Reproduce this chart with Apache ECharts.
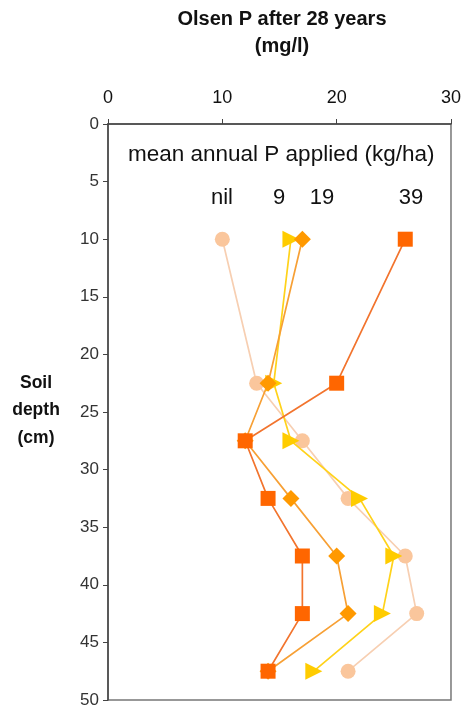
<!DOCTYPE html>
<html>
<head>
<meta charset="utf-8">
<script src="https://cdn.jsdelivr.net/npm/echarts@6/dist/echarts.min.js"></script>
<style>html,body{margin:0;padding:0;background:#fff;}#c{width:464px;height:709px;}</style>
</head>
<body>
<div id="c"></div>
<script>
const depths = [10, 22.5, 27.5, 32.5, 37.5, 42.5, 47.5];
const nilP = [10, 13, 17, 21, 26, 27, 21];
const p9 = [16, 14.5, 16, 22, 25, 24, 18];
const p19 = [17, 14, 12, 16, 20, 21, 14];
const p39 = [26, 20, 12, 14, 17, 17, 14];
const xTicks = [0, 10, 20, 30];
const yTicks = [0, 5, 10, 15, 20, 25, 30, 35, 40, 45, 50];
const seriesNames = ['nil', '9', '19', '39'];

const chart = echarts.init(document.getElementById('c'));
const font = 'Liberation Sans, Arial, sans-serif';
function mk(name, vals, symbol, size, color, lineColor, rot, z) {
  return {
    name: name, type: 'line', z: z,
    data: vals.map((v, i) => [v, depths[i]]),
    symbol: symbol, symbolSize: size, symbolRotate: rot,
    showAllSymbol: true,
    itemStyle: { color: color, opacity: 1 },
    lineStyle: { color: lineColor, width: 1.7 },
    animation: false
  };
}
chart.setOption({
  animation: false,
  grid: { left: 108, right: 13, top: 124, bottom: 9, show: true, borderColor: '#777', borderWidth: 1.5, backgroundColor: 'transparent' },
  xAxis: {
    type: 'value', position: 'top', min: 0, max: 30, interval: 10,
    axisLine: { show: true, lineStyle: { color: '#444', width: 1.5 } },
    axisTick: { show: true, inside: false, length: 5, lineStyle: { color: '#444' } },
    axisLabel: { fontFamily: font, fontSize: 18, color: '#111', margin: 17 },
    splitLine: { show: false }
  },
  yAxis: {
    type: 'value', inverse: true, min: 0, max: 50, interval: 5,
    axisLine: { show: true, lineStyle: { color: '#444', width: 1.5 } },
    axisTick: { show: true, length: 5, lineStyle: { color: '#444' } },
    axisLabel: { fontFamily: font, fontSize: 17, color: '#333', margin: 9 },
    splitLine: { show: false }
  },
  graphic: [
    { type: 'text', style: { text: 'Olsen P after 28 years', x: 282, y: 9, textAlign: 'center', fontFamily: font, fontWeight: 'bold', fontSize: 20, fill: '#111' } },
    { type: 'text', style: { text: '(mg/l)', x: 282, y: 36, textAlign: 'center', fontFamily: font, fontWeight: 'bold', fontSize: 20, fill: '#111' } },
    { type: 'text', style: { text: 'Soil\ndepth\n(cm)', x: 36, y: 369, textAlign: 'center', fontFamily: font, fontWeight: 'bold', fontSize: 17.5, lineHeight: 27.5, fill: '#111' } },
    { type: 'text', style: { text: 'mean annual P applied (kg/ha)', x: 128, y: 143, fontFamily: font, fontSize: 22.5, fill: '#111' } },
    { type: 'text', style: { text: seriesNames[0], x: 222, y: 187, textAlign: 'center', fontFamily: font, fontSize: 22, fill: '#111' } },
    { type: 'text', style: { text: seriesNames[1], x: 279, y: 187, textAlign: 'center', fontFamily: font, fontSize: 22, fill: '#111' } },
    { type: 'text', style: { text: seriesNames[2], x: 322, y: 187, textAlign: 'center', fontFamily: font, fontSize: 22, fill: '#111' } },
    { type: 'text', style: { text: seriesNames[3], x: 411, y: 187, textAlign: 'center', fontFamily: font, fontSize: 22, fill: '#111' } }
  ],
  series: [
    mk(seriesNames[0], nilP, 'circle', 15, '#FAC69C', '#F7CFB2', 0, 2),
    mk(seriesNames[1], p9, 'triangle', 17, '#FFCC00', '#FFD21A', -90, 3),
    mk(seriesNames[2], p19, 'diamond', 17, '#FF9900', '#F7A035', 0, 4),
    mk(seriesNames[3], p39, 'rect', 15, '#FF6600', '#F2742E', 0, 5)
  ]
});
</script>
</body>
</html>
